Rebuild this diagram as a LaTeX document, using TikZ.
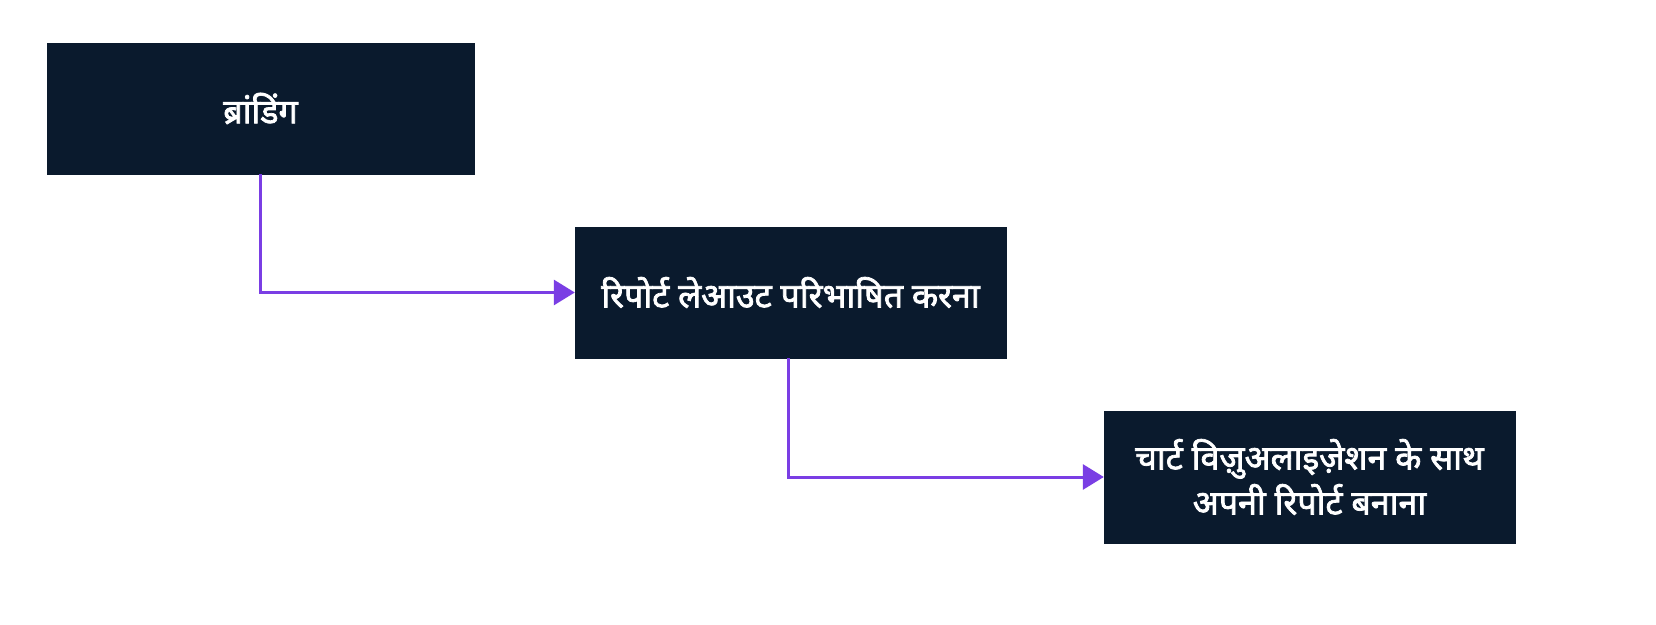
\documentclass[tikz,border=0pt]{standalone}
\usepackage{fontspec}
\newfontfamily\deva[Script=Devanagari,FakeBold=2.2]{Noto Sans}
\usetikzlibrary{arrows.meta}
\definecolor{boxnavy}{HTML}{0A1A2D}
\definecolor{linkpurple}{HTML}{7A3EE4}
\begin{document}
\begin{tikzpicture}[x=1pt,y=1pt,
  stepbox/.style={fill=boxnavy,draw=boxnavy,text=white,align=center,inner sep=0,
    font=\deva\fontsize{34}{45}\selectfont},
  link/.style={linkpurple,line width=3,arrows={-Triangle[length=21,width=25]}}]

\useasboundingbox (0,0) rectangle (1656,624);
\fill [white] (0,0) rectangle (1656,624);

\node [stepbox,minimum width=427,minimum height=131] (brand) at (260.5,515.5) {ब्रांडिंग};
\node [stepbox,minimum width=431,minimum height=131] (layout) at (790.5,331.5) {रिपोर्ट लेआउट परिभाषित करना};
\node [stepbox,minimum width=411,minimum height=132] (report) at (1309.5,147) {चार्ट विज़ुअलाइज़ेशन के साथ\\अपनी रिपोर्ट बनाना};

\draw [link] (brand.south) |- (layout.west);
\draw [link] ([xshift=-2.5]layout.south) |- (report.west);

\end{tikzpicture}
\end{document}
